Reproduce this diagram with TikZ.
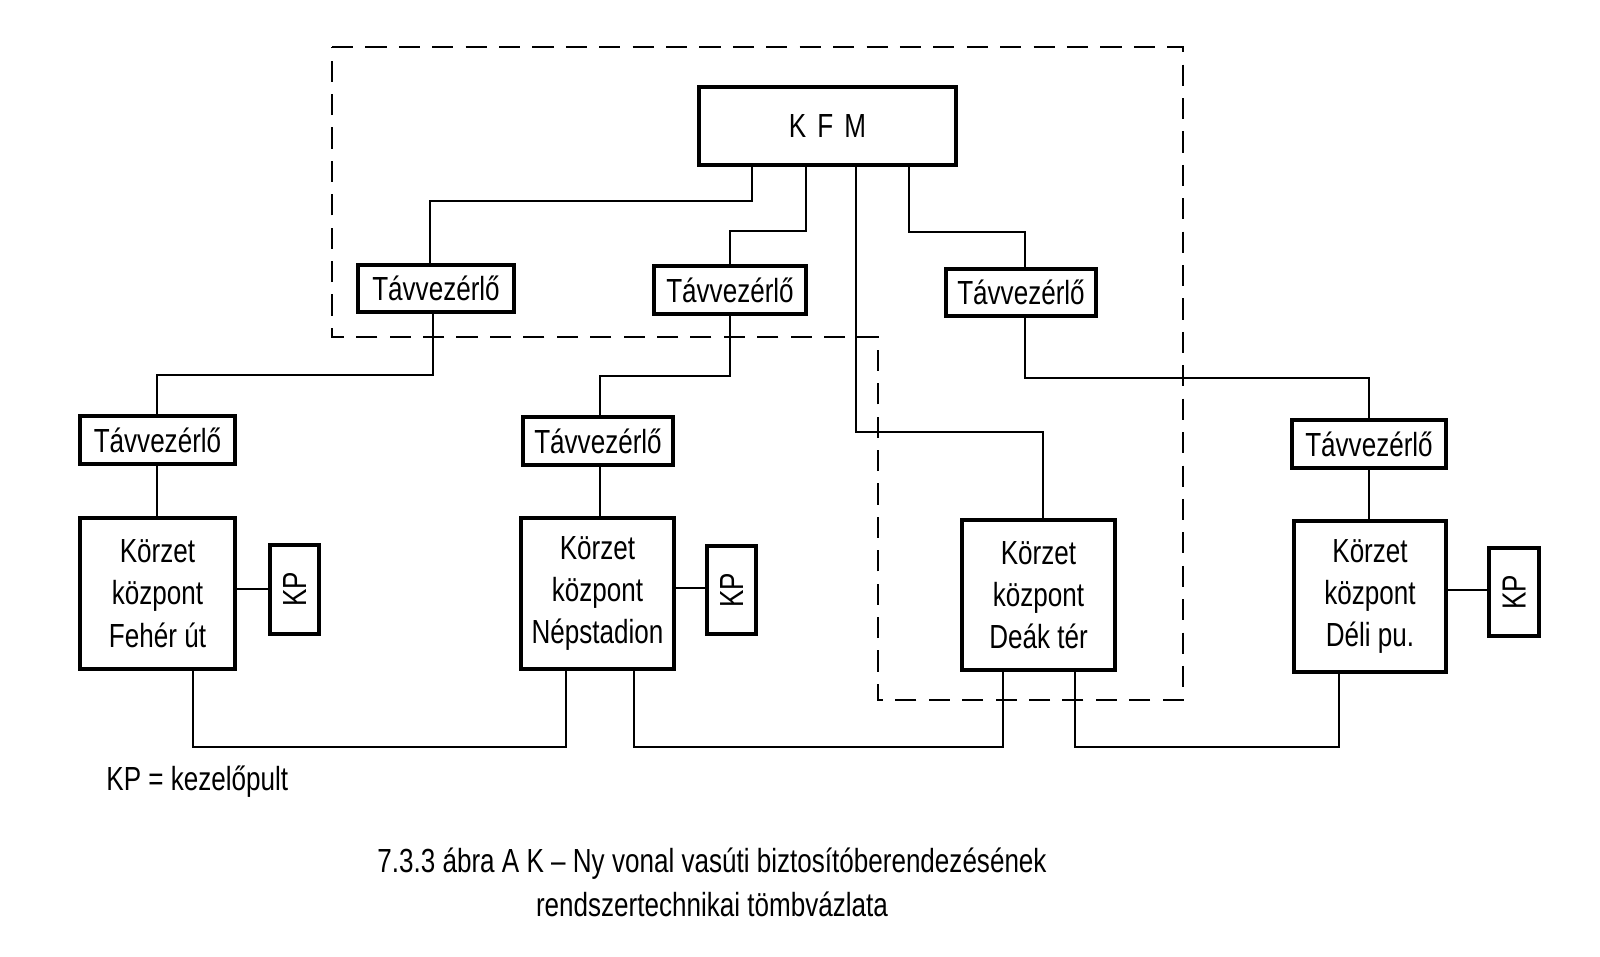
\documentclass[tikz,border=0pt]{standalone}
\usepackage{fontspec}
\setmainfont{Liberation Sans}[FakeStretch=0.78]
\begin{document}
\begin{tikzpicture}[x=0.01cm,y=-0.01cm,
  box/.style={draw,line width=1.2pt,inner sep=0pt,font=\fontsize{9.5}{11}\selectfont},
  ln/.style={line width=0.8pt},
  dsh/.style={line width=0.75pt,dash pattern=on 6pt off 3.5pt}]
\useasboundingbox (0,0) rectangle (1600,956);
\newcommand{\bx}[6]{\node[box,minimum width=#4*0.01cm-0.042cm,minimum height=#5*0.01cm-0.042cm,align=center,anchor=north west] (#1) at (#2,#3) {#6};}
\bx{kfm}{697}{85}{261}{82}{K\,\,F\,\,M}
\bx{ta}{356}{263}{160}{51}{Távvezérlő}
\bx{tb}{652}{264}{156}{52}{Távvezérlő}
\bx{tc}{944}{267}{154}{51}{Távvezérlő}
\bx{td}{78}{414}{159}{52}{Távvezérlő}
\bx{te}{521}{415}{154}{52}{Távvezérlő}
\bx{tf}{1290}{418}{158}{52}{Távvezérlő}
\bx{kg}{78}{516}{159}{155}{Körzet\\[1pt]központ\\[1pt]Fehér út}
\bx{kh}{519}{516}{157}{155}{Körzet\\[1pt]központ\\[1pt]Népstadion}
\bx{ki}{960}{518}{157}{154}{Körzet\\[1pt]központ\\[1pt]Deák tér}
\bx{kj}{1292}{519}{156}{155}{Körzet\\[1pt]központ\\[1pt]Déli pu.}
\bx{pg}{268}{543}{53}{93}{\rotatebox{90}{KP}}
\bx{ph}{705}{544}{53}{92}{\rotatebox{90}{KP}}
\bx{pj}{1487}{546}{54}{92}{\rotatebox{90}{KP}}
% dashed region
\draw[dsh] (332,47) -- (1183,47) -- (1183,700) -- (878,700) -- (878,337) -- (332,337) -- cycle;
% connectors
\draw[ln] (kfm.south -| 752,0) |- (430,201) -- (ta.north -| 430,0);
\draw[ln] (kfm.south -| 806,0) |- (730,231) -- (tb.north -| 730,0);
\draw[ln] (kfm.south -| 856,0) |- (1043,432) -- (ki.north -| 1043,0);
\draw[ln] (kfm.south -| 909,0) |- (1025,232) -- (tc.north -| 1025,0);
\draw[ln] (ta.south -| 433,0) |- (157,375) -- (td.north -| 157,0);
\draw[ln] (tb.south -| 730,0) |- (600,376) -- (te.north -| 600,0);
\draw[ln] (tc.south -| 1025,0) |- (1369,378) -- (tf.north -| 1369,0);
\draw[ln] (td.south -| 157,0) -- (kg.north -| 157,0);
\draw[ln] (te.south -| 600,0) -- (kh.north -| 600,0);
\draw[ln] (tf.south -| 1369,0) -- (kj.north -| 1369,0);
\draw[ln] (kg.east |- 0,589) -- (pg.west |- 0,589);
\draw[ln] (kh.east |- 0,588) -- (ph.west |- 0,588);
\draw[ln] (kj.east |- 0,590) -- (pj.west |- 0,590);
\draw[ln] (kg.south -| 193,0) |- (566,747) -- (kh.south -| 566,0);
\draw[ln] (kh.south -| 634,0) |- (1003,747) -- (ki.south -| 1003,0);
\draw[ln] (ki.south -| 1075,0) |- (1339,747) -- (kj.south -| 1339,0);
% texts
\node[anchor=west,font=\fontsize{9.5}{11}\selectfont] (leg) at (94,782) {KP = kezelőpult};
\node[align=center,font=\fontsize{9.5}{12.5}\selectfont] (cap) at (712,882) {7.3.3 ábra A K -- Ny vonal vasúti biztosítóberendezésének\\rendszertechnikai tömbvázlata};
\end{tikzpicture}
\end{document}
